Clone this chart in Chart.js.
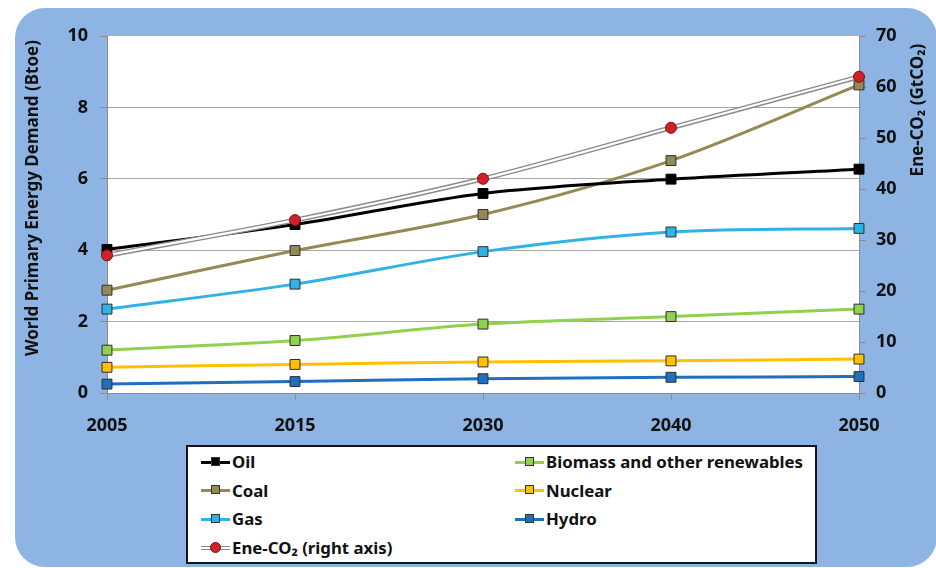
<!DOCTYPE html>
<html>
<head>
<meta charset="utf-8">
<script src="https://cdn.jsdelivr.net/npm/chart.js@4"></script>
<style>
    html, body { margin: 0; padding: 0; background: #fff; }
    #wrap { position: relative; width: 936px; height: 568px; }
    #legend {
        position: absolute; left: 186px; top: 445px; width: 627px; height: 115px;
        border: 2px solid #151515; background: #fff;
        font: bold 16.8px 'Noto Sans', sans-serif; color: #111;
    }
    .item { position: absolute; display: flex; align-items: center; height: 22px; line-height: 22px; white-space: nowrap; }
    .sw { position: relative; width: 29px; height: 3px; margin-right: 2px; }
    .sw i { position: absolute; left: 10px; top: -4px; width: 9px; height: 9px; box-sizing: border-box; border: 1px solid #333; }
    .sw.dbl { height: 2px; background: #fff; border-top: 1.5px solid #8a8a8a; border-bottom: 1.5px solid #8a8a8a; }
    .sw.dbl i { border-radius: 50%; width: 11px; height: 11px; top: -5px; left: 9px; border-color: #7a1010; }
</style>
</head>
<body>
<div id="wrap">
    <canvas id="chart" width="936" height="568"></canvas>
    <div id="legend"></div>
</div>
<script>
// Values
const years = ['2005', '2015', '2030', '2040', '2050'];
const oil = [4.02, 4.72, 5.59, 5.99, 6.27];
const coal = [2.88, 3.99, 5.0, 6.51, 8.63];
const gas = [2.35, 3.05, 3.96, 4.51, 4.61];
const biomass = [1.2, 1.47, 1.93, 2.14, 2.35];
const nuclear = [0.72, 0.8, 0.87, 0.9, 0.95];
const hydro = [0.25, 0.32, 0.4, 0.44, 0.46];
const co2 = [27.0, 33.9, 42.0, 52.0, 62.0];   // right axis
const leftTicks = [0, 2, 4, 6, 8, 10];
const rightTicks = [0, 10, 20, 30, 40, 50, 60, 70];

const tickFont = { family: 'Noto Sans', size: 18, weight: 'bold' };
const axisGray = '#8c8c8c';

function series(label, data, color, fill) {
    return {
        label, data, yAxisID: 'y',
        borderColor: color, borderWidth: 3, tension: 0.3,
        pointStyle: 'rect', pointRadius: 7,
        pointBackgroundColor: fill || color,
        pointBorderColor: color === '#000000' ? '#000000' : '#2e2e2e',
        pointBorderWidth: 1, order: 3
    };
}

const datasets = [
    series('Oil', oil, '#000000'),
    series('Coal', coal, '#948a54'),
    series('Gas', gas, '#2fb2e6'),
    series('Biomass and other renewables', biomass, '#92d050'),
    series('Nuclear', nuclear, '#ffc000'),
    series('Hydro', hydro, '#1f6fbe'),
    // double grey line for CO2: wide grey, thin white on top, then the red dots
    { label: 'Ene-CO\u2082 (right axis)', data: co2, yAxisID: 'y1', borderColor: '#8a8a8a', borderWidth: 5,
      tension: 0.3, pointRadius: 0, order: 2 },
    { label: '', data: co2, yAxisID: 'y1', borderColor: '#ffffff', borderWidth: 2.2,
      tension: 0.3, pointRadius: 0, order: 1 },
    { label: '', data: co2, yAxisID: 'y1', showLine: false, pointStyle: 'circle', pointRadius: 5.5,
      pointBackgroundColor: '#d2202a', pointBorderColor: '#7a1010', pointBorderWidth: 1, order: 0 }
];

function verticalTitle(ctx, text, x, y) {
    ctx.save();
    ctx.fillStyle = '#111';
    ctx.font = "bold 17px 'Noto Sans'";
    ctx.textAlign = 'center';
    ctx.textBaseline = 'middle';
    ctx.translate(x, y);
    ctx.rotate(-Math.PI / 2);
    ctx.fillText(text, 0, 0);
    ctx.restore();
}

// blue rounded panel, white plot area, rotated axis titles
const panel = {
    id: 'panel',
    beforeDraw(chart) {
        const { ctx, chartArea: a } = chart;
        ctx.save();
        ctx.fillStyle = '#8eb4e3';
        ctx.beginPath();
        ctx.roundRect(15, 8, 922, 559, 30);
        ctx.fill();
        ctx.fillStyle = '#ffffff';
        ctx.fillRect(a.left, a.top, a.right - a.left, a.bottom - a.top);
        ctx.restore();

        verticalTitle(ctx, 'World Primary Energy Demand (Btoe)', 33, 198);
        verticalTitle(ctx, 'Ene-CO\u2082 (GtCO\u2082)', 918, 110);
    }
};

const chart = new Chart(document.getElementById('chart'), {
    type: 'line',
    data: { labels: years, datasets },
    options: {
        responsive: false,
        animation: false,
        layout: { padding: { top: 36 } },
        plugins: { legend: { display: false }, tooltip: { enabled: false } },
        scales: {
            x: {
                offset: false,
                grid: { drawOnChartArea: false, tickLength: 7, color: axisGray },
                border: { color: axisGray },
                ticks: { font: tickFont, color: '#111', padding: 15, maxRotation: 0 },
                afterFit: s => { s.height = 175; }
            },
            y: {
                position: 'left', min: 0, max: 10,
                afterBuildTicks: s => { s.ticks = leftTicks.map(v => ({ value: v })); },
                grid: {
                    tickLength: 7, tickColor: axisGray,
                    color: c => c.tick && c.tick.value === 10 ? 'rgba(0,0,0,0)' : '#a6a6a6'
                },
                border: { color: axisGray },
                ticks: { font: tickFont, color: '#111', padding: 12 },
                afterFit: s => { s.width = 107; }
            },
            y1: {
                position: 'right', min: 0, max: 70,
                afterBuildTicks: s => { s.ticks = rightTicks.map(v => ({ value: v })); },
                grid: { drawOnChartArea: false, tickLength: 7, color: axisGray },
                border: { color: axisGray },
                ticks: { font: tickFont, color: '#111', padding: 10 },
                afterFit: s => { s.width = 77; }
            }
        }
    },
    plugins: [panel]
});

// HTML legend, two columns filled top to bottom like the original
const legendOrder = [0, 1, 2, 6, 3, 4, 5];
const legendEl = document.getElementById('legend');
legendOrder.forEach((di, k) => {
    const ds = datasets[di];
    const col = k < 4 ? 0 : 1;
    const row = k < 4 ? k : k - 4;
    const item = document.createElement('div');
    item.className = 'item';
    item.style.left = (col ? 327 : 13) + 'px';
    item.style.top = (4 + row * 28.7) + 'px';
    const sw = document.createElement('span');
    const mark = document.createElement('i');
    if (di === 6) {
        sw.className = 'sw dbl';
        mark.style.background = '#d2202a';
    } else {
        sw.className = 'sw';
        sw.style.background = ds.borderColor;
        mark.style.background = ds.pointBackgroundColor;
    }
    sw.appendChild(mark);
    item.appendChild(sw);
    item.appendChild(document.createTextNode(ds.label));
    legendEl.appendChild(item);
});
</script>
</body>
</html>
